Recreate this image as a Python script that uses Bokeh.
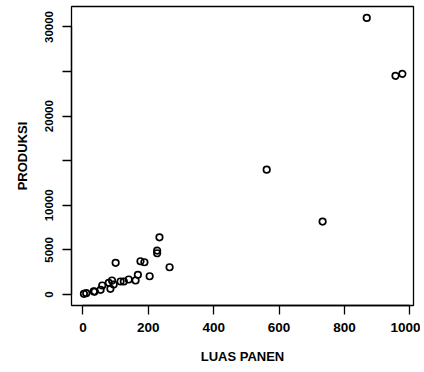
from bokeh.plotting import figure
from bokeh.models import Range1d, FixedTicker, ColumnDataSource
from bokeh.embed import file_html
from bokeh.resources import INLINE

luas_panen = [3, 10, 33, 36, 54, 59, 84, 79, 89, 94, 100, 115, 125, 140, 161,
              168, 176, 188, 204, 227, 227, 234, 265, 562, 733, 868, 956, 977]
produksi = [80, 150, 340, 330, 526, 1008, 638, 1310, 1568, 1120, 3550, 1456, 1456,
            1680, 1568, 2206, 3729, 3617, 2049, 4927, 4625, 6416, 3057, 13998,
            8175, 31020, 24524, 24748]

x_ticks = [0, 200, 400, 600, 800, 1000]
y_ticks = [0, 5000, 10000, 15000, 20000, 25000, 30000]
y_labels = {15000: "", 25000: ""}

FONT = "Liberation Sans"

p = figure(output_backend="svg", toolbar_location=None,
           width=420, height=370,
           x_range=Range1d(-35, 1011), y_range=Range1d(-1234, 32298),
           min_border_left=71, min_border_right=7, min_border_top=6, min_border_bottom=65,
           background_fill_color="white", border_fill_color="white")

p.xgrid.visible = False
p.ygrid.visible = False
p.outline_line_color = "black"
p.outline_line_width = 1.3

src = ColumnDataSource(dict(x=luas_panen, y=produksi))
p.scatter("x", "y", source=src, size=6.5, fill_color=None, line_color="black", line_width=1.7)

for ax in (p.xaxis[0], p.yaxis[0]):
    ax.axis_line_color = "black"
    ax.axis_line_width = 1.3
    ax.major_tick_line_color = "black"
    ax.major_tick_line_width = 1.3
    ax.major_tick_out = 9
    ax.major_tick_in = 0
    ax.minor_tick_line_color = None
    ax.major_label_text_font = FONT
    ax.major_label_text_font_style = "bold"
    ax.major_label_text_color = "black"
    ax.axis_label_text_font = FONT
    ax.axis_label_text_font_style = "bold"
    ax.axis_label_text_font_size = "13px"
    ax.axis_label_text_color = "black"

p.xaxis[0].ticker = FixedTicker(ticks=x_ticks)
p.xaxis[0].bounds = (0, 1000)
p.xaxis[0].axis_label = "LUAS PANEN"
p.xaxis[0].major_label_text_font_size = "13.5px"
p.xaxis[0].major_label_standoff = 8
p.xaxis[0].axis_label_standoff = 14

p.yaxis[0].ticker = FixedTicker(ticks=y_ticks)
p.yaxis[0].bounds = (0, 30000)
p.yaxis[0].major_label_overrides = y_labels
p.yaxis[0].major_label_orientation = "vertical"
p.yaxis[0].major_label_text_font_size = "11.5px"
p.yaxis[0].axis_label = "PRODUKSI"
p.yaxis[0].major_label_standoff = 9
p.yaxis[0].axis_label_standoff = 13

open("out.html", "w").write(file_html(p, INLINE))
